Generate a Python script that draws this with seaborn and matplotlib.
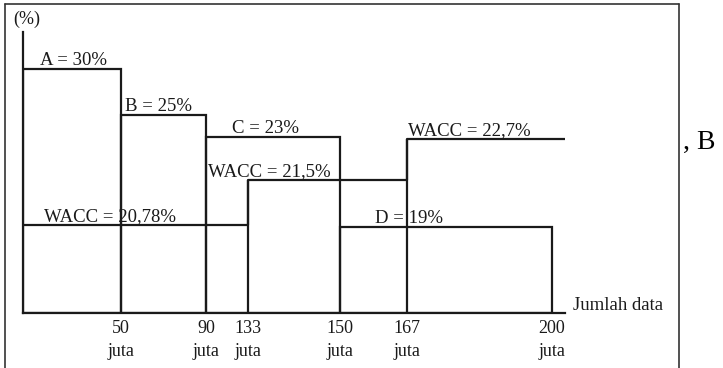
import numpy as np
import matplotlib
matplotlib.use("Agg")
import matplotlib.pyplot as plt
import seaborn as sns
from matplotlib.lines import Line2D

# ---------------- data ----------------
# cost segments (marginal cost of capital)
seg_names = ["A", "B", "C", "D"]
seg_start = [0, 50, 90, 150]          # juta
seg_end = [50, 90, 150, 200]          # juta
seg_cost = [30, 25, 23, 19]           # %

# WACC steps
wacc_start = [0, 133, 167]
wacc_end = [133, 167, 205]
wacc_value = [20.78, 21.5, 22.7]
wacc_text = ["20,78", "21,5", "22,7"]

tick_values = [50, 90, 133, 150, 167, 200]
tick_unit = "juta"

# ---------------- layout (schematic, non-linear axes) ----------------
X_BREAK = [0, 50, 90, 133, 150, 167, 200, 205]
X_PIX = [23, 121, 206, 248, 340, 407, 552, 565]
Y_LEVEL = [0, 19, 20.78, 21.5, 22.7, 23, 25, 30, 33]
Y_PIX = [313, 227, 225, 180, 139, 137, 115, 69, 32]

seg_label_x = [8.7, 51.9, 116.6, 158.9]
wacc_label_x = [10.7, 92.0, 167.3]

W, H = 723, 368
sns.set_theme(style="white")
plt.rcParams["font.family"] = ["Liberation Serif", "DejaVu Serif"]

fig = plt.figure(figsize=(W / 100, H / 100), dpi=100)
ax = fig.add_axes([23 / W, 1 - 313 / H, (565 - 23) / W, (313 - 32) / H])

xb = np.array(X_BREAK, float); xp = np.array(X_PIX, float)
yl = np.array(Y_LEVEL, float); yp = np.array(Y_PIX, float)

ax.set_xscale("function", functions=(lambda x: np.interp(x, xb, xp),
                                     lambda p: np.interp(p, xp, xb)))
ax.set_yscale("function", functions=(lambda v: -np.interp(v, yl, yp),
                                     lambda t: np.interp(-np.asarray(t), yp[::-1], yl[::-1])))

LW = 1.6
INK = "#1a1a1a"

# cost rectangles
widths = [e - s for s, e in zip(seg_start, seg_end)]
ax.bar(seg_start, seg_cost, width=widths, align="edge", fill=False,
       edgecolor=INK, linewidth=LW, zorder=3)

# WACC step line
step_x = wacc_start + [wacc_end[-1]]
step_y = wacc_value + [wacc_value[-1]]
sns.lineplot(x=step_x, y=step_y, drawstyle="steps-post", color=INK,
             linewidth=LW, ax=ax, zorder=3)
ax.vlines(wacc_start[1:], 0, wacc_value[1:], color=INK, linewidth=LW, zorder=3)

ax.set_xlim(0, 205)
ax.set_ylim(0, 33)

for sp in ["top", "right"]:
    ax.spines[sp].set_visible(False)
for sp in ["left", "bottom"]:
    ax.spines[sp].set_color(INK)
    ax.spines[sp].set_linewidth(LW)

FS = 13.5
ax.set_yticks([])
ax.set_xticks(tick_values, labels=[f"{v}\n{tick_unit}" for v in tick_values])
ax.tick_params(axis="x", length=0, pad=5, labelsize=13, labelcolor=INK)
for lab in ax.get_xticklabels():
    lab.set_linespacing(1.45)

for name, x, v in zip(seg_names, seg_label_x, seg_cost):
    ax.annotate(f"{name} = {v}%", xy=(x, v), xytext=(0, 3),
                textcoords="offset points", ha="left", va="baseline",
                fontsize=FS, color=INK)
for txt, x, v in zip(wacc_text, wacc_label_x, wacc_value):
    ax.annotate(f"WACC = {txt}%", xy=(x, v), xytext=(0, 3),
                textcoords="offset points", ha="left", va="baseline",
                fontsize=FS, color=INK)

fig.text(27 / W, 1 - 19 / H, "(%)", ha="center", va="center", fontsize=13, color=INK)
fig.text(573 / W, 1 - 305 / H, "Jumlah data", ha="left", va="center", fontsize=13.5, color=INK)
fig.text(683 / W, 1 - 142 / H, ", B", ha="left", va="center", fontsize=20, color="black")

# outer frame (left, top, right)
fc = "#333333"
fig.add_artist(Line2D([5 / W, 5 / W], [0, 1 - 4 / H], transform=fig.transFigure, color=fc, lw=1.2))
fig.add_artist(Line2D([5 / W, 679 / W], [1 - 4 / H, 1 - 4 / H], transform=fig.transFigure, color=fc, lw=1.2))
fig.add_artist(Line2D([679 / W, 679 / W], [0, 1 - 4 / H], transform=fig.transFigure, color=fc, lw=1.2))

fig.savefig("out.png", dpi=100)
